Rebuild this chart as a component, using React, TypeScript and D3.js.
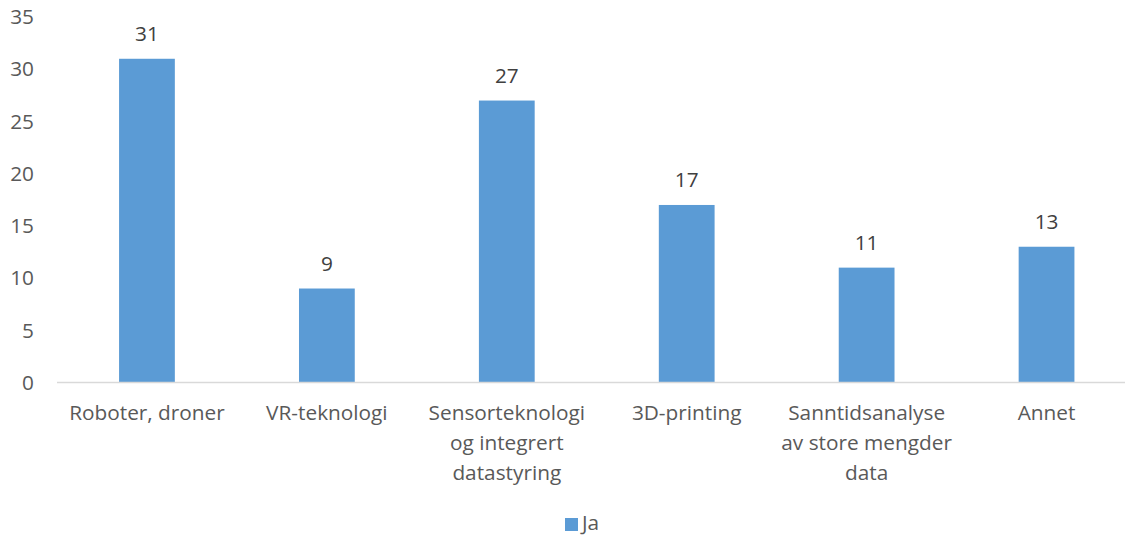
import React from "react";
import * as d3 from "d3";

const categories = [
  "Roboter, droner",
  "VR-teknologi",
  "Sensorteknologi\nog integrert\ndatastyring",
  "3D-printing",
  "Sanntidsanalyse\nav store mengder\ndata",
  "Annet",
];
const values = [31, 9, 27, 17, 11, 13];
const yTicks = [0, 5, 10, 15, 20, 25, 30, 35];
const seriesName = "Ja";

const W = 1125;
const H = 536;
const FONT = "'Open Sans', 'Liberation Sans', sans-serif";
const TEXT = "#595959";
const BAR = "#5b9bd5";
const FS = 20.8;

export default function App() {
  const x = d3
    .scaleBand<string>()
    .domain(categories)
    .range([57, 1136.5])
    .paddingInner(0.69)
    .paddingOuter(0.345);
  const y = d3.scaleLinear().domain([0, 35]).range([382.5, 17]);
  const bw = x.bandwidth();

  return (
    <svg
      width={W}
      height={H}
      style={{ position: "absolute", left: 0, top: 0, background: "#fff" }}
      fontFamily={FONT}
    >
      <rect width={W} height={H} fill="#fff" />
      {yTicks.map((t) => (
        <text
          key={t}
          x={34}
          y={y(t)}
          dy="0.35em"
          textAnchor="end"
          fontSize={FS}
          fill={TEXT}
        >
          {t}
        </text>
      ))}
      {categories.map((c, i) => {
        const cx = (x(c) as number) + bw / 2;
        return (
          <g key={c}>
            <rect
              x={x(c)}
              y={y(values[i])}
              width={bw}
              height={y(0) - y(values[i])}
              fill={BAR}
            />
            <text
              x={cx}
              y={y(values[i]) - 25}
              textAnchor="middle"
              dy="0.35em"
              fontSize={FS}
              fill="#404040"
            >
              {values[i]}
            </text>
            {c.split("\n").map((line, j) => (
              <text
                key={j}
                x={cx}
                y={413 + j * 30}
                dy="0.35em"
                textAnchor="middle"
                fontSize={FS}
                fill={TEXT}
              >
                {line}
              </text>
            ))}
          </g>
        );
      })}
      <line x1={57} x2={W} y1={y(0)} y2={y(0)} stroke="#d9d9d9" strokeWidth={1.5} />
      <rect x={565} y={518} width={13} height={13} fill={BAR} />
      <text x={582} y={529.5} fontSize={FS} fill={TEXT}>
        {seriesName}
      </text>
    </svg>
  );
}
